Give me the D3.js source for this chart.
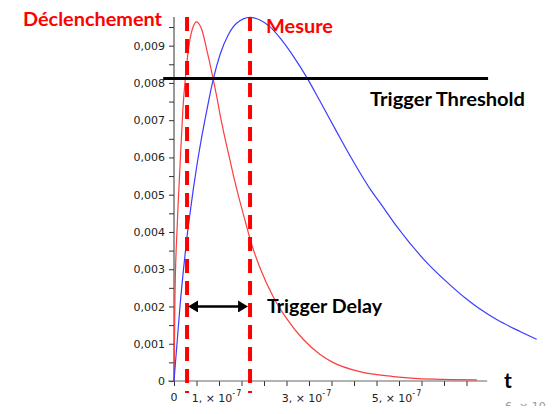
<!DOCTYPE html>
<html><head><meta charset="utf-8">
<script src="https://cdn.jsdelivr.net/npm/d3@7"></script>
<style>html,body{margin:0;padding:0;background:#fff;overflow:hidden}svg{display:block}</style>
</head><body>
<svg id="c" width="552" height="414"></svg>
<script>
// time in units of 1e-7 s, values in V
const redT = [0, 0.022, 0.073, 0.133, 0.193, 0.27, 0.34, 0.43, 0.50, 0.62, 0.73, 0.86, 0.95, 1.04, 1.10, 1.24, 1.32, 1.43, 1.58, 1.73, 1.91, 2.21, 2.50, 2.87, 3.24, 3.53, 4.13, 4.87, 5.76, 6.73];
const redV = [0, 0.0023, 0.0042, 0.00575, 0.0072, 0.00835, 0.00906, 0.00952, 0.00964, 0.00942, 0.00888, 0.00817, 0.00763, 0.00705, 0.00670, 0.00595, 0.00552, 0.00498, 0.00430, 0.00365, 0.00304, 0.00225, 0.00168, 0.00112, 0.00072, 0.00050, 0.00025, 0.00012, 0.00005, 0.00003];
const blueT = [0, 0.096, 0.133, 0.207, 0.282, 0.356, 0.429, 0.504, 0.616, 0.727, 0.784, 0.873, 1.02, 1.21, 1.39, 1.69, 1.91, 2.13, 2.36, 2.65, 2.95, 3.24, 3.62, 3.91, 4.36, 4.58, 4.95, 5.54, 6.06, 6.50, 6.80, 7.17, 7.69, 8.06];
const blueV = [0, 0.00145, 0.0020, 0.00295, 0.0038, 0.0045, 0.00515, 0.00575, 0.00655, 0.00725, 0.0076, 0.0081, 0.00875, 0.0093, 0.0096, 0.00976, 0.00969, 0.00951, 0.00920, 0.00872, 0.00815, 0.00752, 0.00668, 0.00605, 0.00515, 0.00478, 0.00415, 0.00328, 0.00266, 0.00220, 0.00193, 0.00165, 0.00133, 0.00112];
const thresholdV = 0.00812;
const triggerT = 0.29;   // "Déclenchement"
const measureT = 1.69;   // "Mesure"
const delayArrowV = 0.002;
const yTickValues = [0, 0.0005, 0.001, 0.0015, 0.002, 0.0025, 0.003, 0.0035, 0.004, 0.0045, 0.005, 0.0055, 0.006, 0.0065, 0.007, 0.0075, 0.008, 0.0085, 0.009, 0.0095];
const yLabelValues = [0, 0.001, 0.002, 0.003, 0.004, 0.005, 0.006, 0.007, 0.008, 0.009];
const yLabels = ["0", "0,001", "0,002", "0,003", "0,004", "0,005", "0,006", "0,007", "0,008", "0,009"];
const xTickValues = [0, 0.5, 1, 1.5, 2, 2.5, 3, 3.5, 4, 4.5, 5, 5.5, 6, 6.5];
const xLabelValues = [1, 3, 5];
const xLabelMant = ["1,", "3,", "5,"];

const svg = d3.select("#c");
const x = d3.scaleLinear().domain([0, 7]).range([174, 489]);
const y = d3.scaleLinear().domain([0, 0.01]).range([381, 8.4]);
const axisCol = "#333";
const tickFont = "'DejaVu Sans', Verdana, sans-serif";
const boldFont = "Lato, 'Open Sans', sans-serif";

// axes
const gy = svg.append("g").attr("transform", `translate(${x(0)},0)`)
  .call(d3.axisLeft(y).tickValues(yTickValues).tickSize(5).tickSizeOuter(0).tickFormat(""));
gy.select(".domain").remove();
gy.selectAll("line").attr("stroke", axisCol);
const gyl = svg.append("g").attr("transform", `translate(${x(0)},0)`)
  .call(d3.axisLeft(y).tickValues(yLabelValues).tickSize(0).tickPadding(9).tickFormat((d, i) => yLabels[i]));
gyl.select(".domain").remove();
gyl.selectAll("text").attr("font-family", tickFont).attr("font-size", 11).attr("fill", "#222");

const gx = svg.append("g").attr("transform", `translate(0,${y(0)})`)
  .call(d3.axisBottom(x).tickValues(xTickValues).tickSize(5).tickSizeOuter(0).tickFormat(""));
gx.select(".domain").remove();
gx.selectAll("line").attr("stroke", axisCol);

svg.append("line").attr("x1", x(0)).attr("x2", x(0)).attr("y1", y(0)).attr("y2", y(0.00977))
  .attr("stroke", axisCol).attr("stroke-width", 1);
svg.append("line").attr("x1", x(-0.13)).attr("x2", x(6.96)).attr("y1", y(0)).attr("y2", y(0))
  .attr("stroke", "#666").attr("stroke-width", 1.2);

// x labels
svg.append("text").attr("x", x(0)).attr("y", 400.5).attr("text-anchor", "middle")
  .attr("font-family", tickFont).attr("font-size", 11).attr("fill", "#222").text("0");
xLabelValues.forEach((v, i) => {
  const t = svg.append("text").attr("x", x(v) - 2).attr("y", 401.5).attr("text-anchor", "middle")
    .attr("font-family", tickFont).attr("font-size", 11).attr("fill", "#222");
  t.append("tspan").text(xLabelMant[i] + " \u00d7 10");
  t.append("tspan").attr("dy", -6).attr("font-size", 8).attr("letter-spacing", 1).text("-7");
});
// clipped fragment at the bottom right
svg.append("clipPath").attr("id", "frag").append("rect").attr("x", 500).attr("y", 399).attr("width", 52).attr("height", 7);
svg.append("text").attr("x", 505).attr("y", 410).attr("clip-path", "url(#frag)")
  .attr("font-family", tickFont).attr("font-size", 11).attr("fill", "#999").text("6, \u00d7 10");

// curves
const line = d3.line().x(d => x(d[0])).y(d => y(d[1])).curve(d3.curveMonotoneX);
svg.append("path").datum(redT.map((t, i) => [t, redV[i]])).attr("d", line)
  .attr("fill", "none").attr("stroke", "#ff3c3c").attr("stroke-width", 1.2);
svg.append("path").datum(blueT.map((t, i) => [t, blueV[i]])).attr("d", line)
  .attr("fill", "none").attr("stroke", "#3c3cff").attr("stroke-width", 1.2);

// threshold
svg.append("line").attr("x1", x(-0.24)).attr("x2", x(6.98)).attr("y1", y(thresholdV)).attr("y2", y(thresholdV))
  .attr("stroke", "#000").attr("stroke-width", 3);

// dashed markers
[triggerT, measureT].forEach(t => {
  svg.append("line").attr("x1", x(t)).attr("x2", x(t)).attr("y1", y(0.00977)).attr("y2", y(-0.00032))
    .attr("stroke", "#ff0000").attr("stroke-width", 4).attr("stroke-dasharray", "14,8");
});

// arrow
const defs = svg.append("defs");
defs.append("marker").attr("id", "ah").attr("viewBox", "0 0 10 12").attr("refX", 5).attr("refY", 6)
  .attr("markerUnits", "userSpaceOnUse").attr("markerWidth", 10).attr("markerHeight", 12)
  .attr("orient", "auto-start-reverse")
  .append("path").attr("d", "M0,0 L10,6 L0,12 Z").attr("fill", "#000");
svg.append("line").attr("x1", x(triggerT) + 6).attr("x2", x(measureT) - 7)
  .attr("y1", y(delayArrowV)).attr("y2", y(delayArrowV))
  .attr("stroke", "#000").attr("stroke-width", 2.7)
  .attr("marker-start", "url(#ah)").attr("marker-end", "url(#ah)");

// annotation texts
function label(txt, x0, yb, w, size, col) {
  svg.append("text").attr("x", x0).attr("y", yb).attr("font-family", boldFont).attr("font-weight", 700)
    .attr("font-size", size).attr("fill", col).attr("textLength", w).attr("lengthAdjust", "spacingAndGlyphs").text(txt);
}
label("Déclenchement", 23, 26, 139, 19, "#ff0000");
label("Mesure", 266, 33, 67, 19, "#ff0000");
label("Trigger Threshold", 370, 106, 155, 19, "#000");
label("Trigger Delay", 267, 313, 115, 19, "#000");
svg.append("text").attr("x", 504).attr("y", 388).attr("font-family", boldFont).attr("font-weight", 700)
  .attr("font-size", 21).attr("fill", "#000").text("t");
</script>
</body></html>
